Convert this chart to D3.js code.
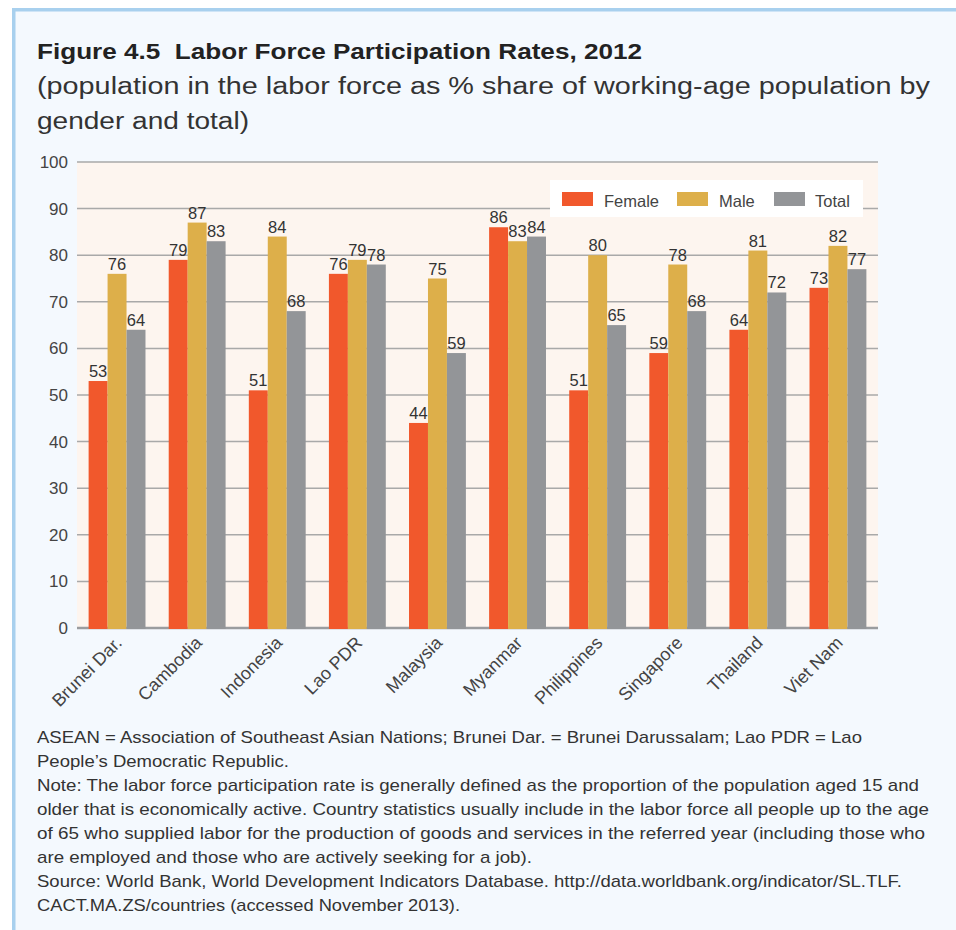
<!DOCTYPE html>
<html>
<head>
<meta charset="utf-8">
<script src="https://cdn.jsdelivr.net/npm/d3@7"></script>
<style>
  html, body { margin: 0; padding: 0; background: #ffffff; }
  svg { display: block; }
  text { font-family: "Liberation Sans", Arial, "Helvetica Neue", sans-serif; }
</style>
</head>
<body>
<svg id="chart" width="956" height="930"></svg>
<script>
// ---------- data ----------
const categories = ["Brunei Dar.", "Cambodia", "Indonesia", "Lao PDR", "Malaysia",
                    "Myanmar", "Philippines", "Singapore", "Thailand", "Viet Nam"];
const seriesNames = ["Female", "Male", "Total"];
const femaleValues = [53, 79, 51, 76, 44, 86, 51, 59, 64, 73];
const maleValues   = [76, 87, 84, 79, 75, 83, 80, 78, 81, 82];
const totalValues  = [64, 83, 68, 78, 59, 84, 65, 68, 72, 77];
const yTickValues  = [0, 10, 20, 30, 40, 50, 60, 70, 80, 90, 100];

const titleText = "Figure 4.5\u00a0\u00a0Labor Force Participation Rates, 2012";
const subtitleLines = [
  "(population in the labor force as % share of working-age population by",
  "gender and total)"
];
const noteLines = [
  "ASEAN = Association of Southeast Asian Nations; Brunei Dar. = Brunei Darussalam; Lao PDR = Lao",
  "People\u2019s Democratic Republic.",
  "Note: The labor force participation rate is generally defined as the proportion of the population aged 15 and",
  "older that is economically active. Country statistics usually include in the labor force all people up to the age",
  "of 65 who supplied labor for the production of goods and services in the referred year (including those who",
  "are employed and those who are actively seeking for a job).",
  "Source: World Bank, World Development Indicators Database. http://data.worldbank.org/indicator/SL.TLF.",
  "CACT.MA.ZS/countries (accessed November 2013)."
];

// ---------- style / layout ----------
const colors = { Female: "#f1582c", Male: "#ddaf4a", Total: "#939598" };
const plot = { left: 77, right: 878, top: 162, bottom: 628 };

const svg = d3.select("#chart");

// panel background
svg.append("rect").attr("x", 12).attr("y", 8).attr("width", 944).attr("height", 922)
  .attr("fill", "#f4f9fe");
svg.append("rect").attr("x", 12).attr("y", 8).attr("width", 944).attr("height", 3.5)
  .attr("fill", "#a8d0ee");
svg.append("rect").attr("x", 12).attr("y", 8).attr("width", 3.5).attr("height", 922)
  .attr("fill", "#a8d0ee");

function fitText(sel, target) {
  sel.each(function() {
    const w = this.getComputedTextLength();
    if (Math.abs(w - target) > 1) {
      d3.select(this).attr("textLength", target).attr("lengthAdjust", "spacingAndGlyphs");
    }
  });
}

// title
svg.append("text").attr("x", 37).attr("y", 59)
  .attr("font-size", 22.5).attr("font-weight", "bold").attr("fill", "#222")
  .text(titleText).call(fitText, 605);

const subtitleWidths = [893, 212];
subtitleLines.forEach((s, i) => {
  svg.append("text").attr("x", 37).attr("y", 94 + i * 35)
    .attr("font-size", 23.5).attr("fill", "#333")
    .text(s).call(fitText, subtitleWidths[i]);
});

// scales
const x0 = d3.scaleBand().domain(categories).range([plot.left, plot.right])
  .paddingInner(0.29).paddingOuter(0.145);
const x1 = d3.scaleBand().domain(seriesNames).range([0, x0.bandwidth()]);
const y = d3.scaleLinear().domain([0, 100]).range([plot.bottom, plot.top]);

// plot background
svg.append("rect").attr("x", plot.left).attr("y", plot.top)
  .attr("width", plot.right - plot.left).attr("height", plot.bottom - plot.top)
  .attr("fill", "#fdf5ef");

// gridlines
svg.append("g").selectAll("line").data(yTickValues.filter(d => d > 0)).join("line")
  .attr("x1", plot.left).attr("x2", plot.right)
  .attr("y1", d => y(d)).attr("y2", d => y(d))
  .attr("stroke", "#a9a9a9").attr("stroke-width", 1.5);

// baseline
svg.append("line").attr("x1", plot.left).attr("x2", plot.right)
  .attr("y1", y(0)).attr("y2", y(0))
  .attr("stroke", "#9a9c9f").attr("stroke-width", 2.5);

// y axis
const yAxis = svg.append("g").attr("transform", `translate(${plot.left},0)`)
  .call(d3.axisLeft(y).tickValues(yTickValues).tickSize(0).tickPadding(9));
yAxis.select(".domain").remove();
yAxis.selectAll("text").attr("font-size", 17).attr("fill", "#444")
  .style("font-family", '"Liberation Sans", Arial, sans-serif');

const rows = categories.map((c, i) => ({
  cat: c,
  vals: [
    { key: "Female", v: femaleValues[i] },
    { key: "Male", v: maleValues[i] },
    { key: "Total", v: totalValues[i] }
  ]
}));

// bars
const groups = svg.append("g").selectAll("g").data(rows).join("g")
  .attr("transform", d => `translate(${x0(d.cat)},0)`);
groups.selectAll("rect").data(d => d.vals).join("rect")
  .attr("x", d => x1(d.key)).attr("width", x1.bandwidth())
  .attr("y", d => y(d.v)).attr("height", d => y(0) - y(d.v) + 1)
  .attr("fill", d => colors[d.key]);

// value labels
const labelGroups = svg.append("g").selectAll("g").data(rows).join("g")
  .attr("transform", d => `translate(${x0(d.cat)},0)`);
labelGroups.selectAll("text").data(d => d.vals).join("text")
  .attr("x", d => x1(d.key) + x1.bandwidth() / 2)
  .attr("y", d => y(d.v) - 4)
  .attr("text-anchor", "middle")
  .attr("font-size", 16.5).attr("fill", "#333")
  .text(d => d.v);

// x axis
const xAxis = svg.append("g").attr("transform", `translate(0,${plot.bottom})`)
  .call(d3.axisBottom(x0).tickSize(0));
xAxis.select(".domain").remove();
xAxis.selectAll("text")
  .attr("x", 0).attr("y", 0).attr("dy", 0)
  .attr("text-anchor", "end")
  .attr("transform", "translate(6,16) rotate(-45)")
  .attr("font-size", 18).attr("fill", "#444")
  .style("font-family", '"Liberation Sans", Arial, sans-serif');

// legend
const legend = svg.append("g");
legend.append("rect").attr("x", 550).attr("y", 180).attr("width", 313).attr("height", 37)
  .attr("fill", "#ffffff");
const legendPos = [
  { key: "Female", sx: 562, tx: 604 },
  { key: "Male", sx: 677, tx: 719 },
  { key: "Total", sx: 774, tx: 815 }
];
legendPos.forEach(p => {
  legend.append("rect").attr("x", p.sx).attr("y", 192).attr("width", 31).attr("height", 14)
    .attr("fill", colors[p.key]);
  legend.append("text").attr("x", p.tx).attr("y", 206.5)
    .attr("font-size", 16.5).attr("fill", "#444").text(p.key);
});

// notes
const noteWidths = [825, 252, 882, 892, 888, 495, 865, 423];
noteLines.forEach((s, i) => {
  svg.append("text").attr("x", 37).attr("y", 743 + i * 24)
    .attr("font-size", 17).attr("fill", "#333")
    .text(s).call(fitText, noteWidths[i]);
});
</script>
</body>
</html>
